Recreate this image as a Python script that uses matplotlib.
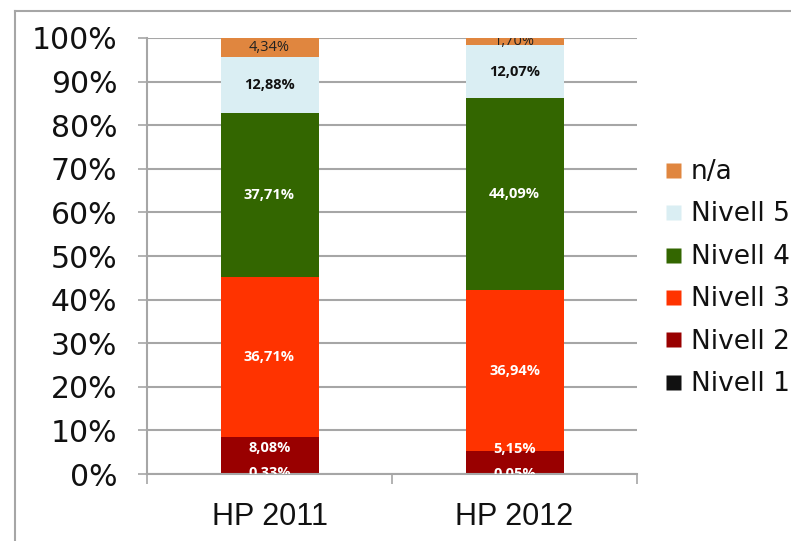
import matplotlib
matplotlib.use("Agg")
import matplotlib.pyplot as plt
from matplotlib.lines import Line2D
import numpy as np

categories = ["HP 2011", "HP 2012"]
series_names = ["Nivell 1", "Nivell 2", "Nivell 3", "Nivell 4", "Nivell 5", "n/a"]
nivell1 = [0.33, 0.05]
nivell2 = [8.08, 5.15]
nivell3 = [36.71, 36.94]
nivell4 = [37.71, 44.09]
nivell5 = [12.88, 12.07]
na = [4.34, 1.70]
y_ticks = [0, 10, 20, 30, 40, 50, 60, 70, 80, 90, 100]

series = [nivell1, nivell2, nivell3, nivell4, nivell5, na]
colors = ["#111111", "#990000", "#FF3300", "#336600", "#DAEEF3", "#E0863F"]
label_colors = ["white", "white", "white", "white", "#111111", "#222222"]
label_weights = ["bold", "bold", "bold", "bold", "bold", "normal"]

W, H = 791, 541
fig = plt.figure(figsize=(W / 100, H / 100), dpi=100)
ax = fig.add_axes([147 / W, 1 - 474 / H, (637 - 147) / W, (474 - 38) / H])

grid_c = "#A6A6A6"
x = np.arange(len(categories))
bottoms = np.zeros(len(categories))
for vals, col in zip(series, colors):
    ax.bar(x, vals, width=0.4, bottom=bottoms, color=col, zorder=3,
           edgecolor="none")
    bottoms = bottoms + np.array(vals)

ax.set_xlim(-0.5, len(categories) - 0.5)
ax.set_ylim(0, 100)
ax.set_yticks(y_ticks)
ax.set_yticklabels([f"{t}%" for t in y_ticks])
ax.yaxis.grid(True, color=grid_c, linewidth=1.5, zorder=0)
ax.set_axisbelow(True)
for s in ["top", "right"]:
    ax.spines[s].set_visible(False)
for s in ["left", "bottom"]:
    ax.spines[s].set_color(grid_c)
    ax.spines[s].set_linewidth(1.5)
    ax.spines[s].set_zorder(4)

ax.tick_params(axis="y", direction="out", length=6.5, width=1.2, color=grid_c,
               labelsize=21.5, pad=15, labelcolor="#111111")
ax.set_xticks(x)
ax.set_xticklabels(categories, fontfamily="Liberation Sans", fontsize=22,
                   color="#111111")
ax.set_xticks(np.arange(len(categories) + 1) - 0.5, minor=True)
ax.tick_params(axis="x", which="major", length=0, pad=20)
ax.tick_params(axis="x", which="minor", direction="out", length=7, width=1.2,
               color=grid_c)

# data labels with simple overlap avoidance
min_gap_px = 25
for i in range(len(categories)):
    base = 0.0
    prev_px = None
    for j, vals in enumerate(series):
        v = vals[i]
        center = base + v / 2
        base += v
        cy = ax.transData.transform((0, center))[1]
        if prev_px is not None and cy - prev_px < min_gap_px:
            cy = prev_px + min_gap_px
        prev_px = cy
        yd = ax.transData.inverted().transform((0, cy))[1]
        lab = f"{v:.2f}%".replace(".", ",")
        ax.text(x[i], yd, lab, ha="center", va="center", fontsize=10.5,
                fontfamily="Open Sans", fontweight=label_weights[j],
                color=label_colors[j], zorder=5, clip_on=True)

# legend (reverse order)
handles = [Line2D([], [], marker="s", linestyle="none", markersize=10.8,
                  markerfacecolor=c, markeredgecolor="none")
           for c in colors][::-1]
fig.legend(handles, series_names[::-1], loc="center left",
           bbox_to_anchor=(662 / W, 1 - 278 / H), frameon=False,
           fontsize=19, handlelength=0.8, handletextpad=0.3,
           labelspacing=0.62, borderpad=0, borderaxespad=0,
           labelcolor="#111111")

# outer frame lines (top and left)
fig.add_artist(Line2D([15 / W, 1], [1 - 11 / H, 1 - 11 / H], color=grid_c,
                      linewidth=1.5, transform=fig.transFigure))
fig.add_artist(Line2D([15 / W, 15 / W], [0, 1 - 11 / H], color=grid_c,
                      linewidth=1.5, transform=fig.transFigure))

fig.savefig("out.png", dpi=100)
